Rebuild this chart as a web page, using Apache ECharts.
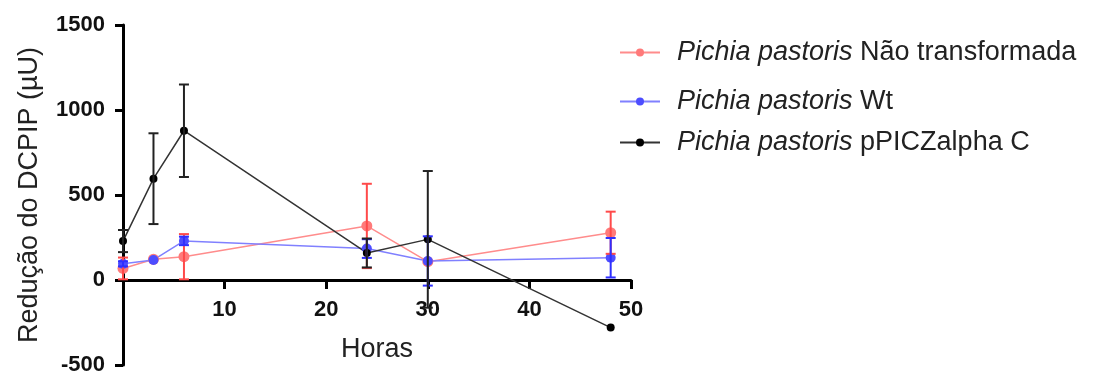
<!DOCTYPE html>
<html>
<head>
<meta charset="utf-8">
<script src="https://cdn.jsdelivr.net/npm/echarts@6/dist/echarts.min.js"></script>
<style>
  html, body { margin: 0; padding: 0; background: #fff; }
  #chart { width: 1095px; height: 374px; }
</style>
</head>
<body>
<div id="chart"></div>
<script>
// horas de cultivo
const hours = [0, 3, 6, 24, 30, 48];

// Pichia pastoris Não transformada
const naoTransf = [68, 122, 137, 318, 108, 278];
const naoTransfErr = [64, 0, 133, 248, 0, 124];

// Pichia pastoris Wt
const wt = [95, 118, 230, 185, 112, 131];
const wtErr = [15, 0, 25, 55, 145, 116];

// Pichia pastoris pPICZalpha C
const ppicz = [229, 596, 878, 159, 239, -280];
const pppiczErr = [65, 267, 272, 85, 402, 0];

const names = [
  "Pichia pastoris Não transformada",
  "Pichia pastoris Wt",
  "Pichia pastoris pPICZalpha C"
];
const yTicks = [-500, 0, 500, 1000, 1500];
const xTicks = [0, 10, 20, 30, 40, 50];

const FONT = "'Liberation Sans', Arial, sans-serif";

function pairs(vals) {
  return hours.map((h, i) => [h, vals[i]]);
}

function errData(vals, errs) {
  let out = [];
  hours.forEach((h, i) => {
    if (errs[i] > 0) out.push([h, vals[i] - errs[i], vals[i] + errs[i]]);
  });
  return out;
}

function errSeries(vals, errs, color) {
  return {
    type: "custom",
    z: 4,
    silent: true,
    data: errData(vals, errs),
    encode: { x: 0, y: [1, 2] },
    renderItem: function (params, api) {
      const x = api.value(0);
      const lo = api.coord([x, api.value(1)]);
      const hi = api.coord([x, api.value(2)]);
      const w = 5; // meia largura do "cap"
      const st = { stroke: color, lineWidth: 2 };
      return {
        type: "group",
        children: [
          { type: "line", shape: { x1: hi[0], y1: hi[1], x2: lo[0], y2: lo[1] }, style: st },
          { type: "line", shape: { x1: hi[0] - w, y1: hi[1], x2: hi[0] + w, y2: hi[1] }, style: st },
          { type: "line", shape: { x1: lo[0] - w, y1: lo[1], x2: lo[0] + w, y2: lo[1] }, style: st }
        ]
      };
    }
  };
}

function lineSeries(name, vals, lineColor, dotColor, size) {
  return {
    name: name,
    type: "line",
    data: pairs(vals),
    symbol: "circle",
    symbolSize: size,
    z: 3,
    lineStyle: { color: lineColor, width: 1.5 },
    itemStyle: { color: dotColor },
    emphasis: { disabled: true }
  };
}

function legendFor(name, top) {
  return {
    data: [name],
    left: 614,
    top: top,
    itemWidth: 40,
    itemHeight: 10,
    formatter: function (n) {
      return "{i|Pichia pastoris}" + n.replace("Pichia pastoris", "");
    },
    textStyle: {
      fontFamily: FONT,
      fontSize: 27,
      color: "#222",
      padding: [0, 0, 0, 12],
      rich: {
        i: { fontFamily: FONT, fontSize: 27, fontStyle: "italic", color: "#222" }
      }
    }
  };
}

const xLabelStyle = {
  fontFamily: FONT,
  fontSize: 22,
  fontWeight: "bold",
  color: "#111"
};

let myChart = echarts.init(document.getElementById("chart"));

const option = {
  animation: false,
  backgroundColor: "#fff",
  legend: [
    legendFor(names[0], 34),
    legendFor(names[1], 83),
    legendFor(names[2], 124)
  ],
  grid: {
    left: 123,
    right: 464,
    top: 25,
    bottom: 9,
    containLabel: false,
    outerBoundsMode: "none"
  },
  xAxis: [
    {
      // linha do eixo no zero
      type: "value",
      min: xTicks[0],
      max: xTicks[xTicks.length - 1],
      interval: 10,
      axisLine: { onZero: true, lineStyle: { color: "#000", width: 3 } },
      axisTick: { length: 9, lineStyle: { color: "#000", width: 3 } },
      axisLabel: { show: false },
      splitLine: { show: false }
    },
    {
      // rótulos e nome, deslocados até o zero
      type: "value",
      position: "bottom",
      offset: -85,
      min: xTicks[0],
      max: xTicks[xTicks.length - 1],
      interval: 10,
      name: "Horas",
      nameLocation: "middle",
      nameGap: 56,
      nameTextStyle: { fontFamily: FONT, fontSize: 27, color: "#222" },
      axisLine: { show: false, onZero: false },
      axisTick: { show: false },
      axisLabel: Object.assign({
        margin: 19,
        formatter: function (v) { return v === 0 ? "" : String(v); }
      }, xLabelStyle),
      splitLine: { show: false }
    }
  ],
  yAxis: {
    type: "value",
    min: yTicks[0],
    max: yTicks[yTicks.length - 1],
    interval: 500,
    name: "Redução do DCPIP (µU)",
    nameLocation: "middle",
    nameGap: 80,
    nameTextStyle: { fontFamily: FONT, fontSize: 27, color: "#222" },
    axisLine: { show: true, onZero: false, lineStyle: { color: "#000", width: 3 } },
    axisTick: { show: true, length: 8, lineStyle: { color: "#000", width: 3 } },
    axisLabel: {
      margin: 18,
      fontFamily: FONT,
      fontSize: 22,
      fontWeight: "bold",
      color: "#111",
      formatter: function (v) { return String(v); }
    },
    splitLine: { show: false }
  },
  series: [
    lineSeries(names[0], naoTransf, "#ff8c8c", "#ff7a7a", 11),
    lineSeries(names[1], wt, "#8080ff", "#4d4dff", 10),
    lineSeries(names[2], ppicz, "#333333", "#000000", 8),
    errSeries(naoTransf, naoTransfErr, "#ff4a4a"),
    errSeries(wt, wtErr, "#2f2fff"),
    errSeries(ppicz, pppiczErr, "#222222")
  ]
};

myChart.setOption(option);
</script>
</body>
</html>
